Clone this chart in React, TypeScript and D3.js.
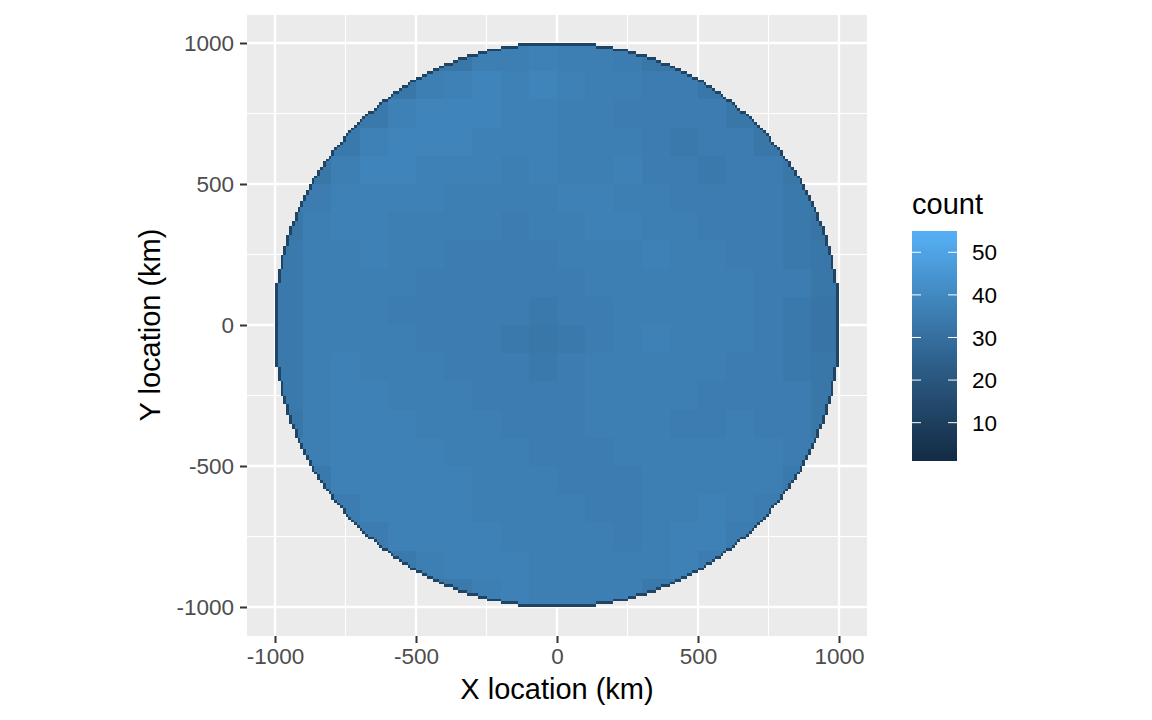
import React, { useEffect, useRef } from 'react'
import * as d3 from 'd3'

const majorTicks = [-1000, -500, 0, 500, 1000]
const minorTicks = [-750, -250, 250, 750]
const legendTicks = [10, 20, 30, 40, 50]
const countDomain = [1, 55]
const binSize = 10
const tileSize = 100
const rimCount = 12

// half width of the disc (km) for each 10 km row, from the equator outwards
const rowHalfWidths = [
  1000, 1000, 1000, 1000, 1000, 1000, 1000, 1000, 1000, 1000,
  1000, 1000, 1000, 1000, 1000, 990, 990, 990, 990, 990,
  980, 980, 980, 980, 980, 970, 970, 970, 960, 960,
  960, 960, 950, 950, 950, 940, 940, 930, 930, 930,
  920, 920, 910, 910, 900, 900, 890, 890, 880, 880,
  870, 870, 860, 850, 850, 840, 830, 830, 820, 810,
  800, 800, 790, 780, 770, 760, 760, 750, 740, 730,
  720, 710, 700, 690, 680, 670, 650, 640, 630, 620,
  600, 590, 580, 560, 550, 530, 520, 500, 480, 460,
  440, 420, 400, 370, 350, 320, 280, 250, 200, 140,
]

// local mean count, 100 km tiles, top row first (0 = outside the disc)
// the single-bin noise of the original is not reproduced, only these local means
const tileCounts = [
  [0, 0, 0, 0, 0, 0, 33, 36, 36, 37, 36, 36, 35, 33, 0, 0, 0, 0, 0, 0],
  [0, 0, 0, 0, 33, 36, 37, 38, 37, 38, 37, 36, 36, 35, 35, 33, 0, 0, 0, 0],
  [0, 0, 0, 34, 37, 38, 38, 38, 37, 37, 36, 36, 35, 35, 35, 35, 33, 0, 0, 0],
  [0, 0, 34, 37, 38, 38, 38, 37, 37, 37, 36, 36, 36, 35, 34, 35, 35, 33, 0, 0],
  [0, 33, 36, 38, 38, 37, 37, 37, 36, 37, 36, 36, 37, 35, 35, 34, 35, 35, 33, 0],
  [0, 35, 37, 37, 37, 37, 36, 36, 36, 36, 37, 37, 36, 36, 35, 35, 35, 35, 34, 0],
  [33, 36, 37, 37, 36, 36, 36, 36, 35, 36, 36, 37, 37, 36, 36, 35, 35, 35, 34, 32],
  [34, 36, 36, 37, 36, 36, 35, 35, 35, 35, 36, 36, 36, 37, 36, 36, 35, 35, 34, 33],
  [34, 36, 36, 36, 36, 35, 35, 35, 35, 35, 35, 36, 36, 36, 36, 36, 36, 35, 35, 33],
  [34, 36, 36, 36, 35, 35, 35, 35, 35, 34, 35, 35, 36, 36, 36, 36, 36, 35, 34, 32],
  [34, 36, 36, 36, 36, 35, 35, 35, 34, 33, 34, 35, 36, 37, 36, 36, 36, 35, 34, 32],
  [34, 36, 37, 36, 36, 36, 35, 35, 35, 34, 35, 36, 36, 36, 36, 36, 35, 35, 34, 33],
  [34, 36, 37, 37, 36, 36, 36, 35, 35, 35, 35, 36, 36, 36, 36, 35, 35, 35, 35, 33],
  [33, 36, 37, 37, 37, 36, 36, 36, 35, 35, 35, 36, 36, 36, 35, 35, 36, 35, 35, 33],
  [0, 36, 37, 37, 37, 37, 36, 36, 36, 35, 35, 35, 36, 36, 36, 36, 36, 36, 35, 0],
  [0, 34, 37, 37, 37, 37, 37, 36, 36, 36, 35, 35, 35, 36, 36, 36, 36, 36, 34, 0],
  [0, 0, 35, 37, 37, 37, 37, 36, 36, 36, 36, 35, 35, 36, 36, 37, 36, 35, 0, 0],
  [0, 0, 0, 35, 37, 37, 37, 37, 36, 36, 36, 36, 35, 36, 37, 37, 35, 0, 0, 0],
  [0, 0, 0, 0, 34, 36, 37, 37, 37, 36, 36, 36, 36, 36, 37, 35, 0, 0, 0, 0],
  [0, 0, 0, 0, 0, 0, 34, 36, 37, 36, 36, 36, 36, 34, 0, 0, 0, 0, 0, 0],
]

export default function App() {
  const svgRef = useRef<SVGSVGElement | null>(null)

  useEffect(() => {
    const svg = d3.select(svgRef.current)
    svg.selectAll('*').remove()

    const x = d3.scaleLinear().domain([-1000, 1000]).range([275, 839])
    const y = d3.scaleLinear().domain([-1000, 1000]).range([607, 43])
    const color = d3
      .scaleLinear<string>()
      .domain(countDomain)
      .range(['#132B43', '#56B1F7'])
      .interpolate(d3.interpolateLab)

    const panel = { left: 247, right: 867, top: 15, bottom: 636 }
    const font = '"Liberation Sans", Arial, sans-serif'

    svg
      .append('rect')
      .attr('x', panel.left)
      .attr('y', panel.top)
      .attr('width', panel.right - panel.left)
      .attr('height', panel.bottom - panel.top)
      .attr('fill', '#EBEBEB')

    // grid
    const grid = svg.append('g').attr('stroke', '#fff')
    const addGrid = (ticks: number[], width: number) => {
      grid
        .append('g')
        .selectAll('line')
        .data(ticks)
        .join('line')
        .attr('x1', d => x(d))
        .attr('x2', d => x(d))
        .attr('y1', panel.top)
        .attr('y2', panel.bottom)
        .attr('stroke-width', width)
      grid
        .append('g')
        .selectAll('line')
        .data(ticks)
        .join('line')
        .attr('y1', d => y(d))
        .attr('y2', d => y(d))
        .attr('x1', panel.left)
        .attr('x2', panel.right)
        .attr('stroke-width', width)
    }
    addGrid(minorTicks, 1.1)
    addGrid(majorTicks, 2.3)

    // bins, one span per tile in each row, rim bins on their own
    const bins: { x0: number; x1: number; y0: number; count: number }[] = []
    const pushRow = (y0: number, half: number, inner: number) => {
      const lo = Math.max(inner, 0)
      bins.push({ x0: -half, x1: -lo, y0, count: rimCount })
      bins.push({ x0: lo, x1: half, y0, count: rimCount })
      const row = Math.floor((1000 - (y0 + binSize / 2)) / tileSize)
      for (let c = 0; c < tileCounts[row].length; c++) {
        const a = Math.max(-1000 + c * tileSize, -lo)
        const b = Math.min(-1000 + (c + 1) * tileSize, lo)
        if (b > a) bins.push({ x0: a, x1: b, y0, count: tileCounts[row][c] || tileCounts[row][c + 1] || tileCounts[row][c - 1] })
      }
    }
    rowHalfWidths.forEach((half, i) => {
      const next = rowHalfWidths[i + 1] ?? 0
      const inner = next === half ? half - binSize : next
      pushRow(i * binSize, half, inner)
      pushRow(-(i + 1) * binSize, half, inner)
    })

    svg
      .append('g')
      .attr('shape-rendering', 'crispEdges')
      .selectAll('rect')
      .data(bins)
      .join('rect')
      .attr('x', d => x(d.x0))
      .attr('y', d => y(d.y0 + binSize))
      .attr('width', d => x(d.x1) - x(d.x0))
      .attr('height', d => y(d.y0) - y(d.y0 + binSize))
      .attr('fill', d => color(d.count))

    // axes, labels keep the plain hyphen of the original
    const styleAxis = (g: any) => {
      g.select('.domain').remove()
      g.selectAll('.tick line').attr('stroke', '#333').attr('stroke-width', 2)
      g.selectAll('.tick text')
        .attr('fill', '#4D4D4D')
        .attr('font-size', 22.5)
        .attr('font-family', font)
    }
    svg
      .append('g')
      .attr('transform', `translate(0,${panel.bottom})`)
      .call(d3.axisBottom(x).tickValues(majorTicks).tickFormat(d => String(d)).tickSize(7).tickPadding(5))
      .call(styleAxis)
    svg
      .append('g')
      .attr('transform', `translate(${panel.left},0)`)
      .call(d3.axisLeft(y).tickValues(majorTicks).tickFormat(d => String(d)).tickSize(7).tickPadding(6))
      .call(styleAxis)

    svg
      .append('text')
      .attr('x', 557)
      .attr('y', 699)
      .attr('text-anchor', 'middle')
      .attr('font-family', font)
      .attr('font-size', 29)
      .text('X location (km)')
    svg
      .append('text')
      .attr('transform', 'translate(160,325) rotate(-90)')
      .attr('text-anchor', 'middle')
      .attr('font-family', font)
      .attr('font-size', 29)
      .text('Y location (km)')

    // legend
    const legend = { left: 912, right: 957, top: 231, bottom: 461 }
    const legendY = d3.scaleLinear().domain(countDomain).range([legend.bottom, legend.top])
    const gradient = svg
      .append('defs')
      .append('linearGradient')
      .attr('id', 'count-bar')
      .attr('x1', 0)
      .attr('x2', 0)
      .attr('y1', 1)
      .attr('y2', 0)
    gradient
      .selectAll('stop')
      .data(d3.ticks(countDomain[0], countDomain[1], 20))
      .join('stop')
      .attr('offset', d => (d - countDomain[0]) / (countDomain[1] - countDomain[0]))
      .attr('stop-color', d => color(d))

    svg
      .append('rect')
      .attr('x', legend.left)
      .attr('y', legend.top)
      .attr('width', legend.right - legend.left)
      .attr('height', legend.bottom - legend.top)
      .attr('fill', 'url(#count-bar)')

    const legendWidth = legend.right - legend.left
    svg
      .append('g')
      .selectAll('path')
      .data(legendTicks)
      .join('path')
      .attr('d', d => `M${legend.left},${legendY(d)}h${legendWidth / 5}M${legend.right},${legendY(d)}h${-legendWidth / 5}`)
      .attr('stroke', '#fff')
      .attr('stroke-width', 1)

    svg
      .append('g')
      .selectAll('text')
      .data(legendTicks)
      .join('text')
      .attr('x', 997)
      .attr('y', d => legendY(d))
      .attr('dy', '0.36em')
      .attr('text-anchor', 'end')
      .attr('font-family', font)
      .attr('font-size', 22.5)
      .text(d => d)

    svg
      .append('text')
      .attr('x', 912)
      .attr('y', 214)
      .attr('font-family', font)
      .attr('font-size', 29)
      .text('count')
  }, [])

  return <svg ref={svgRef} width={1152} height={720} style={{ position: 'absolute', left: 0, top: 0, background: '#fff' }} />
}
